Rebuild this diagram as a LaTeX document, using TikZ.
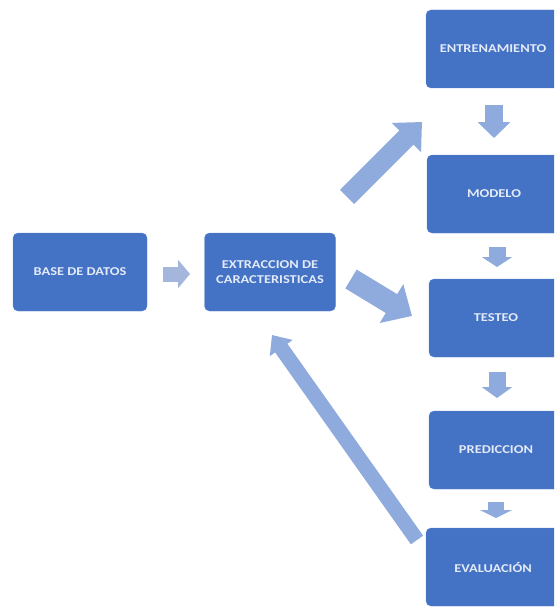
\documentclass[tikz,border=0pt]{standalone}
\usepackage{fontspec}
\setmainfont{Carlito}
\newfontfamily\stagefont[FakeStretch=1.2]{Carlito}
\usetikzlibrary{arrows.meta}
\definecolor{boxblue}{RGB}{68,114,196}
\definecolor{arrowblue}{RGB}{143,170,220}
\definecolor{arrowgrey}{RGB}{165,182,220}
\definecolor{labeltext}{RGB}{228,235,248}
\tikzset{
  stage/.style={rectangle, rounded corners=5pt, fill=boxblue, draw=boxblue!85!white,
    minimum width=134pt, minimum height=78pt, inner sep=0pt, align=center,
    text=labeltext, font=\stagefont\fontsize{12}{14.5}\selectfont\bfseries},
  blockarrow/.style args={#1/#2/#3}{draw=arrowblue, line width=#1,
    -{Triangle[width=#2, length=#3]}},
}
\begin{document}
\begin{tikzpicture}[x=1pt, y=-1pt]
\useasboundingbox (0,0) rectangle (554,607);
\clip (0,0) rectangle (554,607);

% process stages
\node[stage] (base)  at (80,272)  {BASE DE DATOS};
\node[stage, minimum width=131pt] (extr) at (270,272) {EXTRACCION DE\\CARACTERISTICAS};
\node[stage] (entr)  at (493,49)  {ENTRENAMIENTO};
\node[stage] (model) at (494,194) {MODELO};
\node[stage] (test)  at (496,318) {TESTEO};
\node[stage] (pred)  at (496,450) {PREDICCION};
\node[stage] (eval)  at (493,567) {EVALUACIÓN};

% free ends of the block arrows
\coordinate (a1s) at (163,274); \coordinate (a1e) at (190,274);
\coordinate (upS) at (347,197); \coordinate (upE) at (422,122);
\coordinate (dnS) at (351,279); \coordinate (dnE) at (412,316);
\coordinate (v1s) at (494,105); \coordinate (v1e) at (494,138);
\coordinate (v2s) at (497,247); \coordinate (v2e) at (497,267);
\coordinate (v3s) at (497,372); \coordinate (v3e) at (497,398);
\coordinate (v4s) at (496,502); \coordinate (v4e) at (496,518);
\coordinate (rbS) at (417,540); \coordinate (rbE) at (272,335);

% arrows
\draw[blockarrow=15pt/28pt/12pt, draw=arrowgrey] (a1s) -- (a1e);
\draw[blockarrow=20pt/40pt/22pt] (upS) -- (upE);
\draw[blockarrow=22pt/44pt/24pt] (dnS) -- (dnE);
\draw[blockarrow=18pt/32pt/16pt] (v1s) -- (v1e);
\draw[blockarrow=17pt/30pt/10pt] (v2s) -- (v2e);
\draw[blockarrow=17pt/30pt/11pt] (v3s) -- (v3e);
\draw[blockarrow=16pt/32pt/8pt]  (v4s) -- (v4e);
\draw[blockarrow=15pt/27pt/16pt] (rbS) -- (rbE);
\end{tikzpicture}
\end{document}
